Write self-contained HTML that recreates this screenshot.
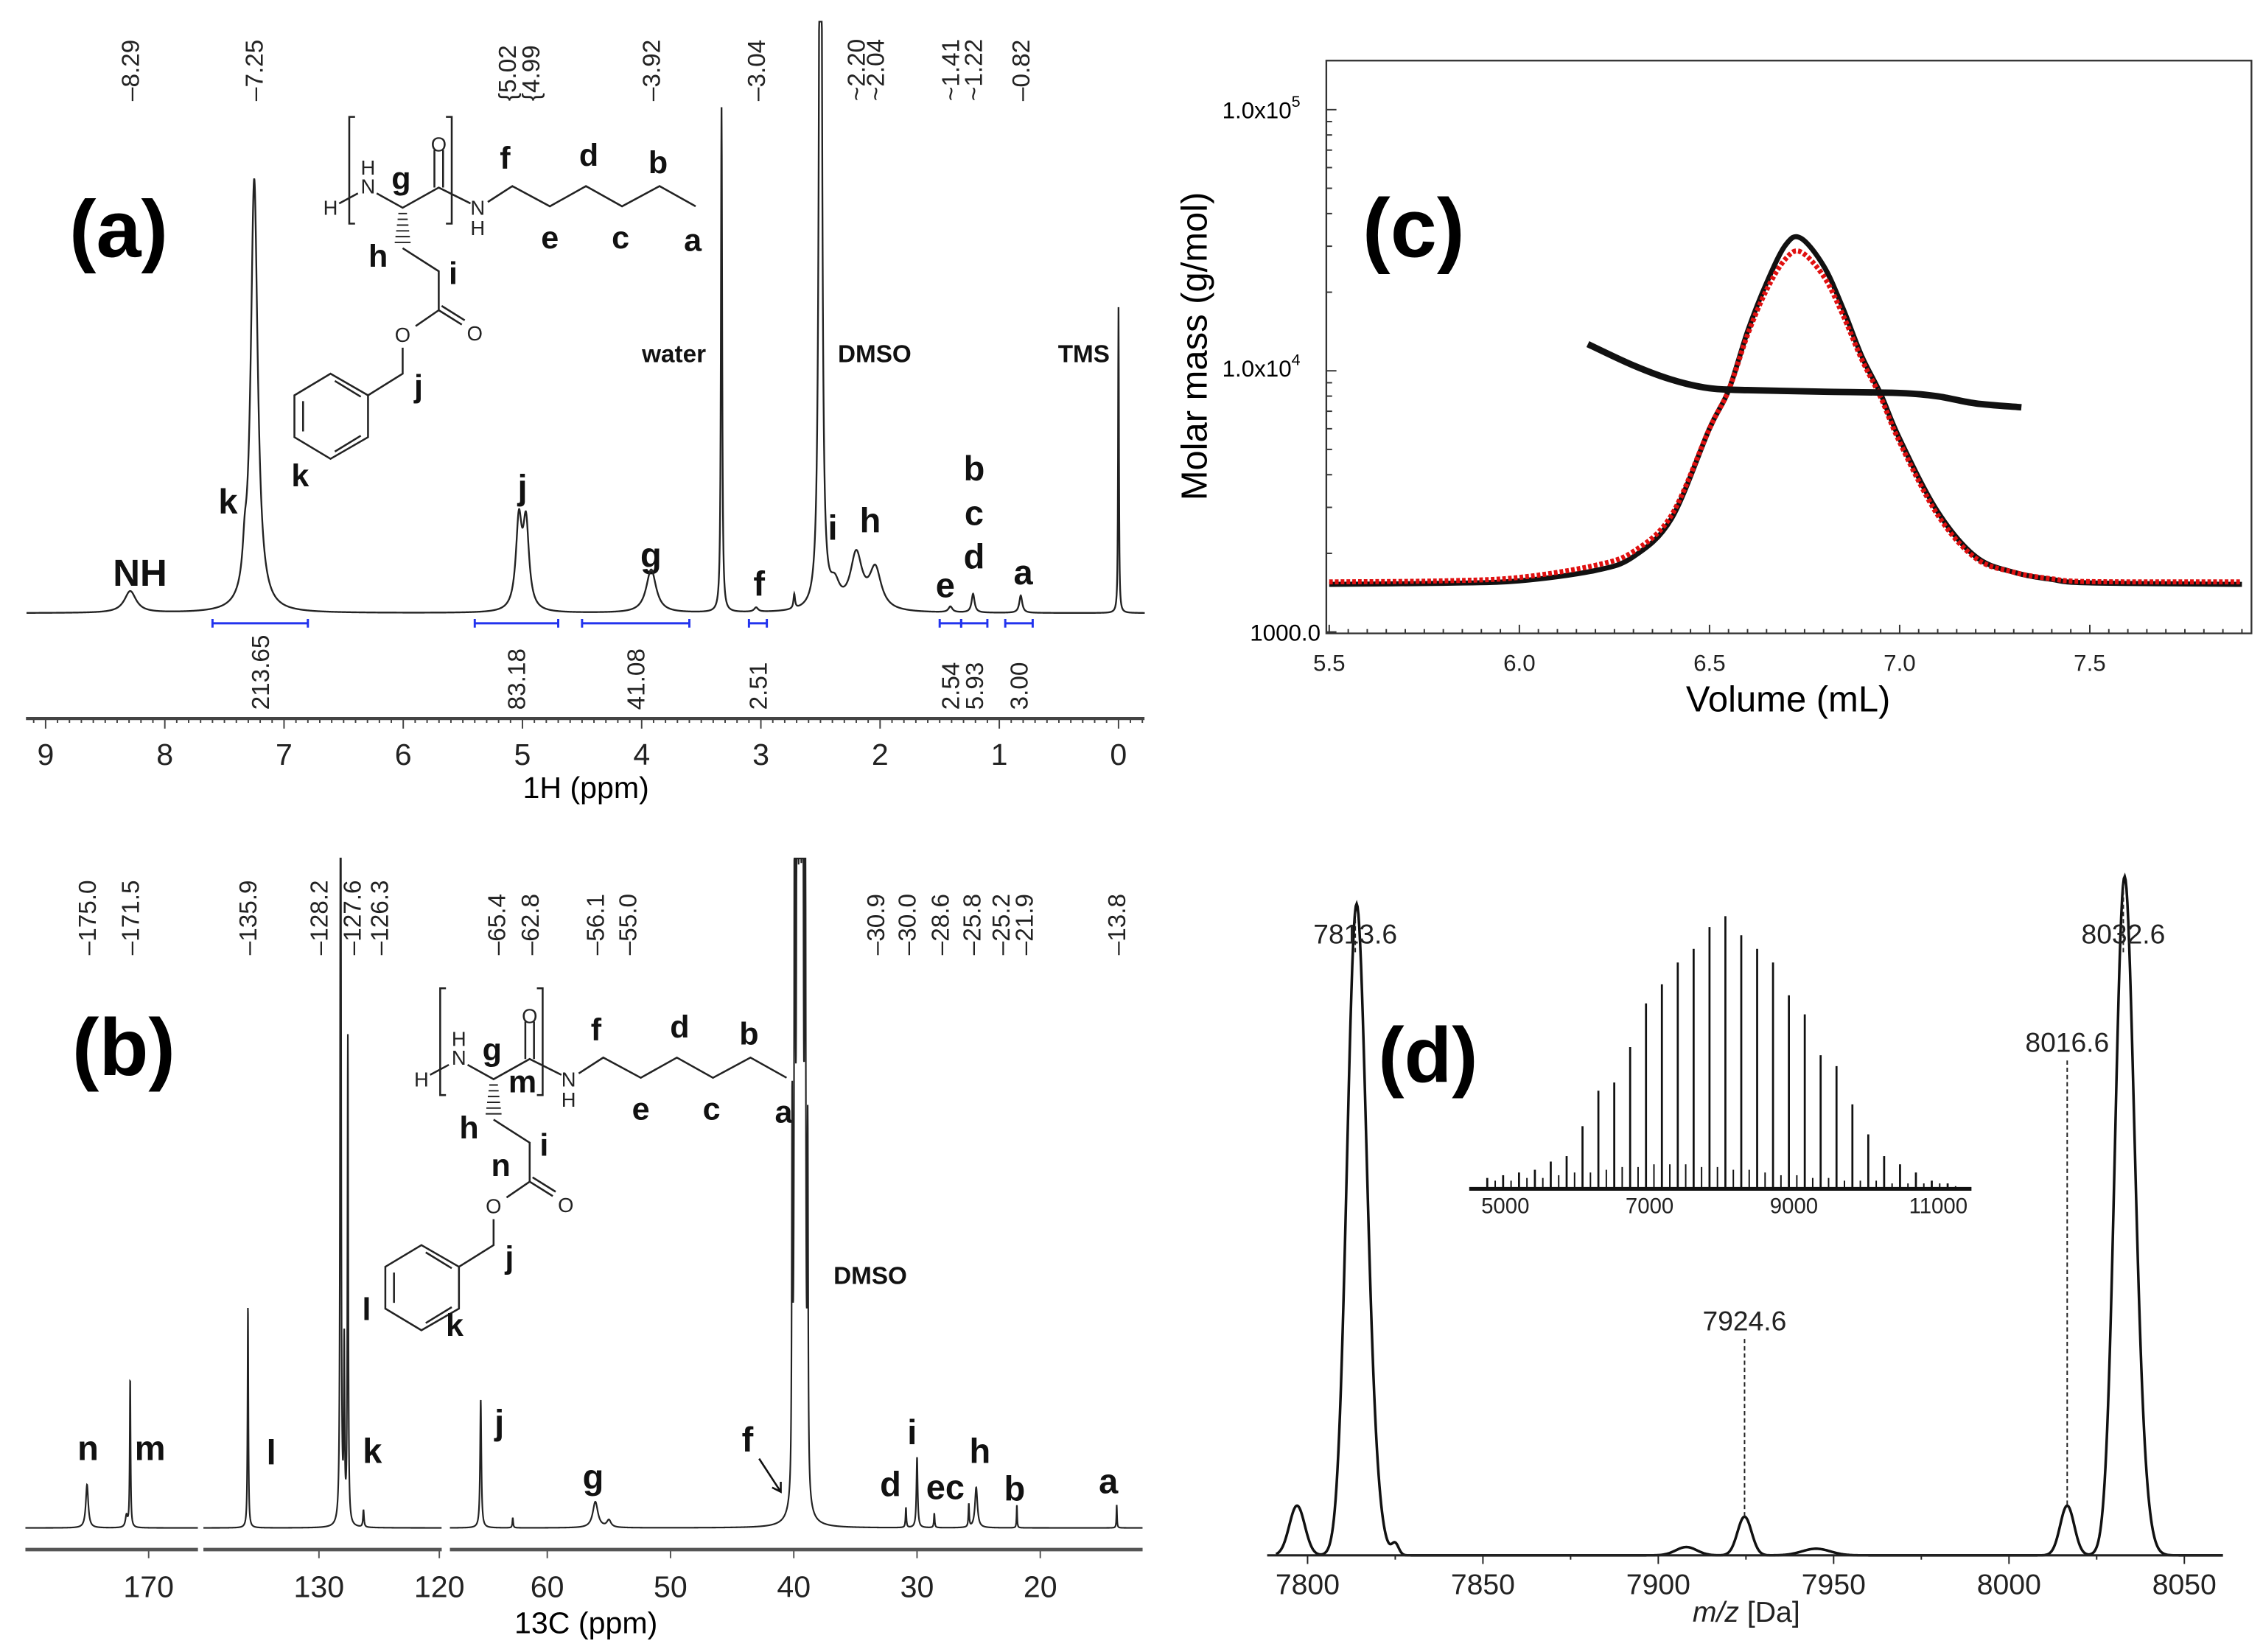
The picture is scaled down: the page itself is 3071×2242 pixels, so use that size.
<!DOCTYPE html>
<html><head><meta charset="utf-8"><title>NMR, SEC and MALDI figure</title>
<style>
html,body{margin:0;padding:0;background:#fff;}
svg{display:block;font-family:"Liberation Sans",sans-serif;}
.b{font-weight:bold;}
</style></head>
<body>
<svg id="fig" xmlns="http://www.w3.org/2000/svg" width="3071" height="2242" viewBox="0 0 1568 1145" preserveAspectRatio="none">
<rect x="0" y="0" width="1568" height="1145" fill="#fff"/>

<g id="pa">
  <text x="48" y="178" font-size="56" class="b">(a)</text>
  <g fill="none" stroke="#222" stroke-width="1.3">
    <path d="M246,81 H242 V155 H246 M309,81 H313 V155 H309"/>
    <path d="M235,141 L248,134 M261,134 L279,144 L304,130 L326,141 M301,130 V104 M307,130 V104"/>
    <path d="M338,140 L355,129 L381,143 L406,129 L431,143 L457,129 L482,143"/>
    <path d="M276,148 h6 M275.5,152 h7 M275,156 h8 M274.5,160 h9 M274,164 h10 M273.5,168 h11" stroke-width="1"/>
    <path d="M279,172 L304,188 V215 M304,215 L320,225 M306,212 L322,222 M304,215 L288,226 M279,241 V259 L255,274"/>
    <path d="M229,259 L255,274 V303 L229,318 L204,303 V274 Z M210,278 V299 M232,264 L250,275 M232,313 L250,302"/>
  </g>
  <g font-size="14" fill="#222" text-anchor="middle">
    <text x="229" y="149">H</text><text x="255" y="121">H</text><text x="255" y="134">N</text>
    <text x="304" y="105">O</text><text x="331" y="149">N</text><text x="331" y="163">H</text>
    <text x="329" y="236">O</text><text x="279" y="237">O</text>
  </g>
  <g font-size="22" class="b" text-anchor="middle" fill="#111">
    <text x="278" y="131">g</text><text x="350" y="117">f</text><text x="408" y="115">d</text><text x="456" y="120">b</text>
    <text x="381" y="172">e</text><text x="430" y="172">c</text><text x="480" y="174">a</text>
    <text x="262" y="185">h</text><text x="314" y="197">i</text><text x="290" y="275">j</text>
    <text x="208" y="337">k</text>
  </g>
  <g font-size="24" class="b" text-anchor="middle" fill="#111">
    <text x="97" y="406" font-size="26">NH</text><text x="158" y="356">k</text><text x="362" y="346">j</text>
    <text x="451" y="393">g</text><text x="526" y="413">f</text><text x="577" y="374">i</text><text x="603" y="369">h</text>
    <text x="655" y="414">e</text><text x="675" y="333">b</text><text x="675" y="364">c</text><text x="675" y="394">d</text><text x="709" y="405">a</text>
    <text x="467" y="251" font-size="17">water</text><text x="606" y="251" font-size="17">DMSO</text><text x="751" y="251" font-size="17">TMS</text>
  </g>
  <text x="406" y="553" font-size="21" text-anchor="middle">1H (ppm)</text>
</g>

<g id="pb">
  <text x="50" y="745" font-size="56" class="b">(b)</text>
  <g transform="translate(63,604)">
    <g fill="none" stroke="#222" stroke-width="1.3">
      <path d="M246,81 H242 V155 H246 M309,81 H313 V155 H309"/>
      <path d="M235,141 L248,134 M261,134 L279,144 L304,130 L326,141 M301,130 V104 M307,130 V104"/>
      <path d="M338,140 L355,129 L381,143 L406,129 L431,143 L457,129 L482,143"/>
      <path d="M276,148 h6 M275.5,152 h7 M275,156 h8 M274.5,160 h9 M274,164 h10 M273.5,168 h11" stroke-width="1"/>
      <path d="M279,172 L304,188 V215 M304,215 L320,225 M306,212 L322,222 M304,215 L288,226 M279,241 V259 L255,274"/>
      <path d="M229,259 L255,274 V303 L229,318 L204,303 V274 Z M210,278 V299 M232,264 L250,275 M232,313 L250,302"/>
    </g>
    <g font-size="14" fill="#222" text-anchor="middle">
      <text x="229" y="149">H</text><text x="255" y="121">H</text><text x="255" y="134">N</text>
      <text x="304" y="105">O</text><text x="331" y="149">N</text><text x="331" y="163">H</text>
      <text x="329" y="236">O</text><text x="279" y="237">O</text>
    </g>
    <g font-size="22" class="b" text-anchor="middle" fill="#111">
      <text x="278" y="131">g</text><text x="299" y="153">m</text><text x="350" y="117">f</text><text x="408" y="115">d</text><text x="456" y="120">b</text>
      <text x="381" y="172">e</text><text x="430" y="172">c</text><text x="480" y="174">a</text>
      <text x="262" y="185">h</text><text x="314" y="197">i</text><text x="284" y="211">n</text><text x="290" y="275">j</text>
      <text x="252" y="322">k</text><text x="191" y="311">l</text>
    </g>
  </g>
  <g font-size="24" class="b" text-anchor="middle" fill="#111">
    <text x="61" y="1012">n</text><text x="104" y="1012">m</text><text x="188" y="1015">l</text><text x="258" y="1014">k</text>
    <text x="346" y="994">j</text><text x="411" y="1032">g</text><text x="518" y="1006">f</text><text x="617" y="1037">d</text>
    <text x="632" y="1001">i</text><text x="655" y="1039">ec</text><text x="679" y="1014">h</text><text x="703" y="1040">b</text><text x="768" y="1035">a</text>
    <text x="603" y="890" font-size="17">DMSO</text>
  </g>
  <path d="M526,1011 L541,1034 M535,1031 L541,1034 L541,1027" fill="none" stroke="#111" stroke-width="1.3"/>
  <text x="406" y="1132" font-size="21" text-anchor="middle">13C (ppm)</text>
</g>

<g id="pc">
  <rect x="919" y="42" width="641" height="397" fill="none" stroke="#333" stroke-width="1.2"/>
  <text x="944" y="178" font-size="58" class="b">(c)</text>
  <text transform="translate(836,240) rotate(-90)" font-size="25" text-anchor="middle">Molar mass (g/mol)</text>
  <text x="1239" y="493" font-size="25" text-anchor="middle">Volume (mL)</text>
  <text x="901" y="82" font-size="16" text-anchor="end">1.0x10<tspan dy="-8" font-size="11">5</tspan></text>
  <text x="901" y="261" font-size="16" text-anchor="end">1.0x10<tspan dy="-8" font-size="11">4</tspan></text>
  <text x="915" y="444" font-size="16" text-anchor="end">1000.0</text>
</g>

<g id="pd">
  <text x="955" y="750" font-size="54" class="b">(d)</text>
  <text x="1210" y="1124" font-size="20" text-anchor="middle" fill="#222"><tspan font-style="italic">m/z</tspan> [Da]</text>
</g>

<g id="dyn"></g>
</svg>

<script>
// ---------- Panel (a) 1H NMR data ----------
const aPeakPpm    = [8.29, 7.25, 7.33, 5.03, 4.97, 3.92, 3.33, 3.04, 2.72, 2.50, 2.38, 2.20, 2.04, 1.41, 1.22, 0.82, 0.00];
const aPeakHeight = [15,   300,  20,   60,   58,   30,   350,  3,    10,   800,  15,   38,   28,   4,    13,   12,   212];
const aPeakWidth  = [0.06, 0.035,0.02, 0.03, 0.03, 0.05, 0.006,0.02, 0.008,0.012,0.05, 0.06, 0.06, 0.02, 0.015,0.015,0.004];
const aTicks = [9,8,7,6,5,4,3,2,1,0];
const aShiftLabels = ["8.29","7.25","5.02","4.99","3.92","3.04","2.20","2.04","1.41","1.22","0.82"];
const aShiftPrefix = ["–","–","{","{","–","–","~","~","~","~","–"];
const aIntFrom = [7.6, 5.4, 4.5, 3.1, 1.5, 1.32, 0.95];
const aIntTo   = [6.8, 4.7, 3.6, 2.95, 1.32, 1.1, 0.72];
const aIntVals = ["213.65","83.18","41.08","2.51","2.54","5.93","3.00"];

// ---------- Panel (b) 13C NMR data ----------
const bPeakPpm    = [175.0,171.5,171.8,135.9,128.2,127.6,127.9,126.3,65.4,62.8,56.1,55.0,40.13,39.92,39.71,39.50,39.29,39.08,38.87,30.9,30.0,28.6,25.8,25.2,21.9,13.8];
const bPeakHeight = [30,   103,  8,    154,  700,  337,  120,  12,   89,  7,   18,  5,   260,  790,  1500, 1800, 1500, 790,  240,  14,  49,  10,  16,  28,  16,  16];
const bPeakWidth  = [0.12, 0.04, 0.1,  0.04, 0.04, 0.04, 0.04, 0.05, 0.06,0.04,0.25,0.2, 0.04, 0.04, 0.04, 0.04, 0.04, 0.04, 0.04, 0.04,0.06,0.04,0.04,0.12,0.03,0.03];
const bTicks = [170,130,120,60,50,40,30,20];
const bShiftLabels = ["175.0","171.5","135.9","128.2","127.6","126.3","65.4","62.8","56.1","55.0","30.9","30.0","28.6","25.8","25.2","21.9","13.8"];
const bShiftNudge  = [0,0,0,-15,3,11,11,12,0,13,-21,-7,4,2,17,5,0];

// ---------- Panel (c) SEC data ----------
const cVol   = [5.5,5.8,6.0,6.2,6.3,6.4,6.5,6.55,6.6,6.65,6.7,6.74,6.8,6.85,6.9,6.95,7.0,7.1,7.2,7.3,7.4,7.5,7.9];
const cRI    = [0,0.003,0.01,0.04,0.08,0.19,0.45,0.56,0.73,0.87,0.98,1.0,0.92,0.80,0.66,0.55,0.42,0.21,0.08,0.035,0.014,0.004,0];
const cRIRed = [0.007,0.01,0.02,0.055,0.095,0.2,0.45,0.56,0.72,0.85,0.94,0.96,0.89,0.78,0.65,0.54,0.41,0.2,0.075,0.035,0.016,0.008,0.007];
const cMVol  = [6.18,6.3,6.4,6.5,6.6,6.8,7.0,7.1,7.2,7.32];
const cMass  = [12650,10480,9250,8570,8430,8320,8220,7980,7500,7250];
const cXTicks = [5.5,6.0,6.5,7.0,7.5];

// ---------- Panel (d) MALDI data ----------
const dPeakMz     = [7797,7813.6,7816,7825,7908,7924.6,7945,8016.6,8032.6,8035];
const dPeakHeight = [9,   95,    30,  2,   1.5, 7,     1.2, 9,     100,   30];
const dPeakWidth  = [2.2, 2.6,   3,   1,   3,   2,     4,   2,     2.6,   3];
const dTicks = [7800,7850,7900,7950,8000,8050];
const dAnnot = ["7813.6","7924.6","8016.6","8032.6"];
const dAnnotMz = [7813.6,7924.6,8016.6,8032.6];
const dInsetMass = [4750,4970,5190,5410,5630,5850,6070,6290,6510,6730,6950,7170,7390,7610,7830,8050,8270,8490,8710,8930,9150,9370,9590,9810,10030,10250,10470,10690,10910,11130];
const dInsetInt  = [4,5,6,7,10,12,23,36,39,52,68,75,83,88,96,100,93,88,83,71,64,49,45,31,20,12,9,6,3,2];
const dInsetMinor = [3,3,4,4,5,6,6,7,8,8,9,9,9,8,8,7,7,6,5,5,4,4,3,3,3,2,2,2,2,1];
const dInsetTicks = [5000,7000,9000,11000];

const NS='http://www.w3.org/2000/svg';
const root=document.getElementById('dyn');
function mk(tag,attrs,parent){const e=document.createElementNS(NS,tag);for(const k in attrs)e.setAttribute(k,attrs[k]);(parent||root).appendChild(e);return e;}
function smooth(pts){let s='M'+pts[0][0].toFixed(1)+','+pts[0][1].toFixed(1);
 for(let i=0;i<pts.length-1;i++){const p0=pts[Math.max(0,i-1)],p1=pts[i],p2=pts[i+1],p3=pts[Math.min(pts.length-1,i+2)];
  const c1x=p1[0]+(p2[0]-p0[0])/6,c1y=p1[1]+(p2[1]-p0[1])/6,c2x=p2[0]-(p3[0]-p1[0])/6,c2y=p2[1]-(p3[1]-p1[1])/6;
  s+=`C${c1x.toFixed(1)},${c1y.toFixed(1)} ${c2x.toFixed(1)},${c2y.toFixed(1)} ${p2[0].toFixed(1)},${p2[1].toFixed(1)}`;}
 return s;}

// ===== Panel a =====
const xA=p=>775-82.6*p;
const baseA=425;
let d='';
for(let p=9.16;p>=-0.22;p-=0.002){let s=0;for(let i=0;i<aPeakPpm.length;i++){const u=(p-aPeakPpm[i])/aPeakWidth[i];s+=aPeakHeight[i]/(1+u*u);}
 const y=Math.max(15,baseA-s);d+=(d?'L':'M')+xA(p).toFixed(2)+','+y.toFixed(2);}
const specA=mk('path',{d:d,fill:'none',stroke:'#222','stroke-width':1.2});


const axA=mk('line',{x1:18,x2:793,y1:498,y2:498,stroke:'#444','stroke-width':2.2});


for(let p=9.1;p>=-0.2;p-=0.1){const r=Math.round(p*10)/10;const major=Math.abs(r-Math.round(r))<0.01;
 const t=mk('line',{x1:xA(r),x2:xA(r),y1:498,y2:major?505:501,stroke:'#444','stroke-width':1});
 
 }
aTicks.forEach(v=>{const t=mk('text',{x:xA(v),y:530,'font-size':21,'text-anchor':'middle',fill:'#222'});t.textContent=String(v);
 
 });
aShiftLabels.forEach((s,i)=>{let x=xA(parseFloat(s));if(s==='5.02')x-=9;if(s==='4.99')x+=5;
 const t=mk('text',{transform:`translate(${x+6},70) rotate(-90)`,'font-size':17,fill:'#222'});t.textContent=aShiftPrefix[i]+s;
 
 });
aIntFrom.forEach((f,i)=>{const x1=xA(f),x2=xA(aIntTo[i]);
 const g=mk('path',{d:`M${x1},432 H${x2} M${x1},429 V435 M${x2},429 V435`,stroke:'#2233ee','stroke-width':1.5,fill:'none'});
 
 
 const xm=(x1+x2)/2;
 const t=mk('text',{transform:`translate(${xm+6},492) rotate(-90)`,'font-size':17,fill:'#222'});t.textContent=aIntVals[i];
 
 });

// ===== Panel b =====
const segB=[{p0:180,p1:166},{p0:139.6,p1:119.8},{p0:67.9,p1:11.7}];
function xB(p){if(p>=150)return 103+(170-p)*8.54;if(p>=90)return 221+(130-p)*8.34;return 550+(40-p)*8.54;}
const baseB=1059;
segB.forEach((sg,k)=>{let dd='';const step=k===1?0.012:0.0117;
 for(let p=sg.p0;p>=sg.p1;p-=step){let s=0;for(let i=0;i<bPeakPpm.length;i++){const u=(p-bPeakPpm[i])/bPeakWidth[i];s+=bPeakHeight[i]/(1+u*u);}
  const y=Math.max(595,baseB-s);dd+=(dd?'L':'M')+xB(p).toFixed(2)+','+y.toFixed(2);}
 const sp=mk('path',{d:dd,fill:'none',stroke:'#222','stroke-width':1.1});
 
 
 const ax=mk('line',{x1:xB(sg.p0),x2:xB(sg.p1),y1:1074,y2:1074,stroke:'#555','stroke-width':2.4});
 
 });
bTicks.forEach(v=>{const x=xB(v);
 const tk=mk('line',{x1:x,x2:x,y1:1074,y2:1080,stroke:'#555','stroke-width':1});
 
 
 const t=mk('text',{x:x,y:1107,'font-size':21,'text-anchor':'middle',fill:'#222'});t.textContent=String(v);
 
 });
bShiftLabels.forEach((s,i)=>{const x=xB(parseFloat(s))+bShiftNudge[i];
 const t=mk('text',{transform:`translate(${x+6},662) rotate(-90)`,'font-size':17,fill:'#222'});t.textContent='–'+s;
 
 });

// ===== Panel c =====
const xC=v=>921+(v-5.5)*263.5;
const yC=m=>438-(Math.log10(m)-3)*181;
cXTicks.forEach(v=>{const t=mk('text',{x:xC(v),y:465,'font-size':16,'text-anchor':'middle',fill:'#222'});t.textContent=v.toFixed(1);
 
 });
for(let v=5.5;v<=7.91;v+=0.05){const r=Math.round(v*100)/100;const maj=Math.abs(r*2-Math.round(r*2))<0.01;
 const tk=mk('line',{x1:xC(r),x2:xC(r),y1:439,y2:maj?433:436,stroke:'#333','stroke-width':1});
 
 }
[1000,10000,100000].forEach(dec=>{for(let m=1;m<10;m++){const val=dec*m;if(val>110000)break;const y=yC(val);
 const tk=mk('line',{x1:919,x2:m===1?926:923,y1:y,y2:y,stroke:'#333','stroke-width':1});
 
 }});
function riPts(arr,base,scale){return cVol.map((v,i)=>[xC(v),base-arr[i]*scale]);}
const riBlack=mk('path',{d:smooth(riPts(cRI,405,240)),fill:'none',stroke:'#111','stroke-width':3.5,'stroke-linejoin':'round'});


const riRed=mk('path',{d:smooth(riPts(cRIRed,405,240)),fill:'none',stroke:'#e01010','stroke-width':3.5,'stroke-dasharray':'2.5 1.5'});


const mm=mk('path',{d:smooth(cMVol.map((v,i)=>[xC(v),yC(cMass[i])])),fill:'none',stroke:'#111','stroke-width':4.5});



// ===== Panel d =====
const xD=m=>906+(m-7800)*2.43;
const baseD=1078;
let dp='';
for(let m=7791;m<=8061;m+=0.25){let s=0;for(let i=0;i<dPeakMz.length;i++){const u=(m-dPeakMz[i])/dPeakWidth[i];s+=dPeakHeight[i]*Math.exp(-0.5*u*u);}
 dp+=(dp?'L':'M')+xD(m).toFixed(2)+','+(baseD-s*3.83).toFixed(2);}
const specD=mk('path',{d:dp,fill:'none',stroke:'#111','stroke-width':1.8});


const axD=mk('line',{x1:878,x2:1540,y1:baseD,y2:baseD,stroke:'#222','stroke-width':1.6});


for(let m=7800;m<=8060;m+=25){const maj=m%50===0;
 const tk=mk('line',{x1:xD(m),x2:xD(m),y1:baseD,y2:baseD+(maj?6:3),stroke:'#222','stroke-width':1});
 
 }
dTicks.forEach(v=>{const t=mk('text',{x:xD(v),y:1105,'font-size':20,'text-anchor':'middle',fill:'#222'});t.textContent=String(v);
 
 });
const annotY=[660,928,735,660];
dAnnot.forEach((s,i)=>{const x=xD(dAnnotMz[i]);let s2=0;for(let k=0;k<dPeakMz.length;k++){const u=(dAnnotMz[i]-dPeakMz[k])/dPeakWidth[k];s2+=dPeakHeight[k]*Math.exp(-0.5*u*u);}
 const ln=mk('line',{x1:x,x2:x,y1:annotY[i],y2:baseD-s2*3.83,stroke:'#222','stroke-width':1,'stroke-dasharray':'3 2'});
 
 
 const t=mk('text',{x:x,y:annotY[i]-6,'font-size':19,'text-anchor':'middle',fill:'#222'});t.textContent=s;
 
 });
const xI=m=>1043+(m-5000)*0.05;
const baseI=824;
dInsetMass.forEach((m,i)=>{const b=mk('line',{x1:xI(m),x2:xI(m),y1:baseI,y2:baseI-dInsetInt[i]*1.89,stroke:'#111','stroke-width':1.4});
 
 
 const b2=mk('line',{x1:xI(m+110),x2:xI(m+110),y1:baseI,y2:baseI-dInsetMinor[i]*1.89,stroke:'#111','stroke-width':1});
 
 });
const axI=mk('line',{x1:1018,x2:1366,y1:baseI,y2:baseI,stroke:'#111','stroke-width':2.6});


dInsetTicks.forEach(v=>{const t=mk('text',{x:xI(v),y:841,'font-size':15,'text-anchor':'middle',fill:'#222'});t.textContent=String(v);
 
 });
</script>
</body></html>
